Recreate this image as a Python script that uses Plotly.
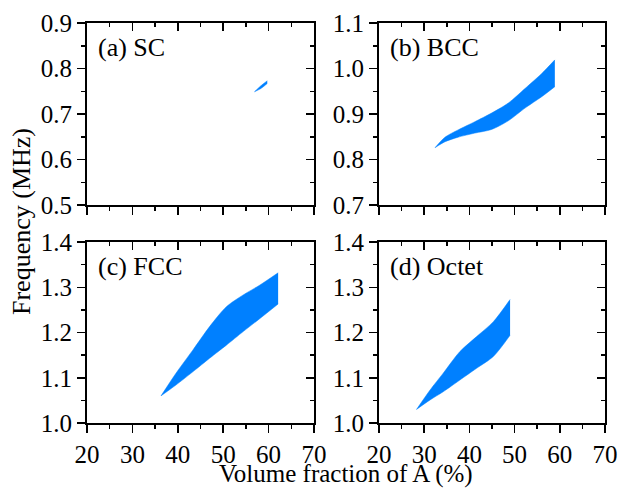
import plotly.graph_objects as go

# ---- data ----
sc_x = [56.9, 58.3, 59.7]
sc_upper = [0.749, 0.762, 0.773]
sc_lower = [0.749, 0.756, 0.767]

bcc_x = [32.4, 34.6, 37.5, 41.2, 44.9, 48.6, 52.3, 56.0, 58.9]
bcc_upper = [0.826, 0.849, 0.865, 0.883, 0.902, 0.924, 0.956, 0.989, 1.019]
bcc_lower = [0.826, 0.839, 0.849, 0.858, 0.866, 0.885, 0.913, 0.938, 0.960]

fcc_x = [36.3, 39.6, 43.3, 47.0, 50.7, 54.4, 58.1, 62.1]
fcc_upper = [1.060, 1.110, 1.161, 1.213, 1.257, 1.283, 1.305, 1.332]
fcc_lower = [1.060, 1.084, 1.113, 1.143, 1.172, 1.202, 1.231, 1.263]

oct_x = [28.3, 31.3, 34.2, 37.9, 41.6, 45.3, 49.0]
oct_upper = [1.030, 1.073, 1.110, 1.158, 1.191, 1.224, 1.273]
oct_lower = [1.030, 1.051, 1.069, 1.095, 1.121, 1.147, 1.194]

panel_labels = ["(a) SC", "(b) BCC", "(c) FCC", "(d) Octet"]
x_range = [20, 70]
y_ranges = [[0.5, 0.9], [0.7, 1.1], [1.0, 1.4], [1.0, 1.4]]
x_title = "Volume fraction of A (%)"
y_title = "Frequency (MHz)"

series = [(sc_x, sc_upper, sc_lower), (bcc_x, bcc_upper, bcc_lower),
          (fcc_x, fcc_upper, fcc_lower), (oct_x, oct_upper, oct_lower)]

FONT = "Liberation Serif"
BLUE = "#0080FF"

W, H = 619, 488


def px(v):
    return v / W


def py(v):
    return 1 - v / H


xdoms = [[px(87), px(314)], [px(379), px(605)], [px(87), px(314)], [px(379), px(605)]]
ydoms = [[py(205), py(23)], [py(205), py(23)], [py(423), py(242)], [py(423), py(242)]]

fig = go.Figure()
layout = dict(width=W, height=H, margin=dict(l=0, r=0, t=0, b=0, autoexpand=False),
              paper_bgcolor="white", plot_bgcolor="white", showlegend=False,
              font=dict(family=FONT, size=25, color="black"))

annotations = []
for i, (xs, up, lo) in enumerate(series):
    n = i + 1
    sx = "" if n == 1 else str(n)
    ox = str(n + 4)
    fig.add_trace(go.Scatter(
        x=xs, y=lo, mode="lines",
        line=dict(color=BLUE, width=0.5, shape="spline", smoothing=0.8),
        xaxis="x" + sx, yaxis="y" + sx, hoverinfo="skip"))
    fig.add_trace(go.Scatter(
        x=xs, y=up, mode="lines", fill="tonexty", fillcolor=BLUE,
        line=dict(color=BLUE, width=0.5, shape="spline", smoothing=0.8),
        xaxis="x" + sx, yaxis="y" + sx, hoverinfo="skip"))
    # invisible trace on mirror axes (top / right, inward ticks)
    fig.add_trace(go.Scatter(x=[None], y=[None], xaxis="x" + ox, yaxis="y" + ox,
                             mode="markers", hoverinfo="skip"))
    bottom = n >= 3
    common = dict(showline=True, linecolor="black", linewidth=2, showgrid=False,
                  zeroline=False, ticklen=8, tickwidth=1.5, tickcolor="black",
                  automargin=False,
                  tickfont=dict(family=FONT, size=25, color="black"))
    mn_out = dict(ticks="outside", ticklen=4, tickwidth=1.5, tickcolor="black")
    mn_in = dict(ticks="inside", ticklen=4, tickwidth=1.5, tickcolor="black")
    layout["xaxis" + sx] = dict(domain=xdoms[i], range=x_range, anchor="y" + sx,
                                 ticks="outside", dtick=10, showticklabels=bottom,
                                 minor=dict(dtick=5, **mn_out), **common)
    layout["yaxis" + sx] = dict(domain=ydoms[i], range=y_ranges[i], anchor="x" + sx,
                                 ticks="outside", dtick=0.1, tickformat=".1f",
                                 minor=dict(dtick=0.05, **mn_out), **common)
    layout["xaxis" + ox] = dict(range=x_range, overlaying="x" + sx, anchor="y" + sx,
                                 side="top", ticks="inside", dtick=10,
                                 showticklabels=False,
                                 minor=dict(dtick=5, **mn_in), **common)
    layout["yaxis" + ox] = dict(range=y_ranges[i], overlaying="y" + sx, anchor="x" + sx,
                                 side="right", ticks="inside", dtick=0.1,
                                 showticklabels=False,
                                 minor=dict(dtick=0.05, **mn_in), **common)
    annotations.append(dict(text=panel_labels[i], xref="x" + sx + " domain",
                            yref="y" + sx + " domain", x=0.04, y=0.865,
                            xanchor="left", yanchor="middle", showarrow=False,
                            font=dict(family=FONT, size=26, color="black")))

annotations.append(dict(text=x_title, xref="paper", yref="paper", x=px(346),
                        y=py(474), xanchor="center", yanchor="middle",
                        showarrow=False, font=dict(family=FONT, size=25, color="black")))
annotations.append(dict(text=y_title, xref="paper", yref="paper", x=px(21),
                        y=py(222), xanchor="center", yanchor="middle", textangle=-90,
                        showarrow=False, font=dict(family=FONT, size=26, color="black")))
layout["annotations"] = annotations
fig.update_layout(**layout)
fig.write_html(
    "out.html",
    config={"displayModeBar": False, "staticPlot": True},
    post_script="document.body.style.margin='0px';"
                "document.body.style.padding='0px';"
                "document.body.style.overflow='hidden';",
)
